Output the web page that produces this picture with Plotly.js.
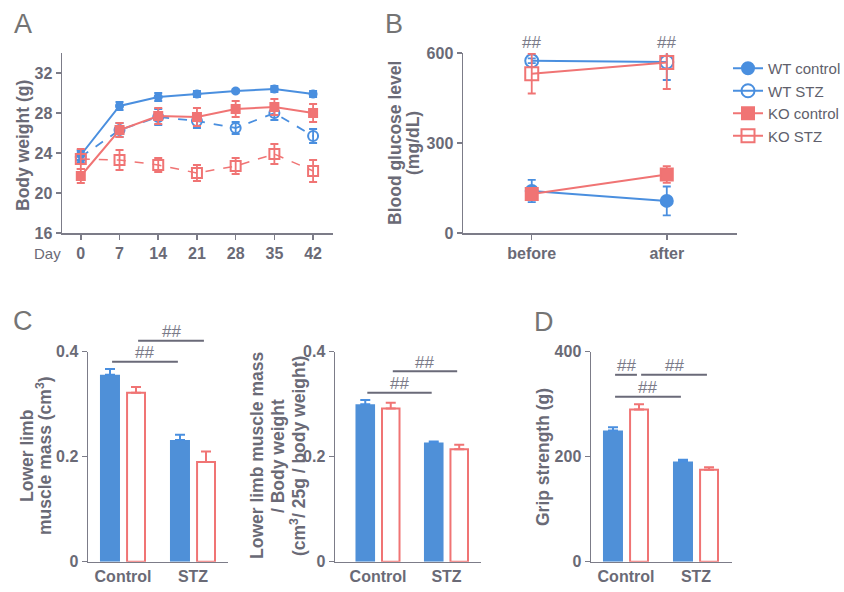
<!DOCTYPE html>
<html><head><meta charset="utf-8">
<script src="https://cdn.plot.ly/plotly-3.0.1.min.js"></script>
<style>html,body{margin:0;padding:0;background:#fff}#chart{width:844px;height:592px}</style>
</head><body><div id="chart"></div>
<script>
// ---------------- data ----------------
const days = [0, 7, 14, 21, 28, 35, 42];
const groupNames = ['WT control', 'WT STZ', 'KO control', 'KO STZ'];

const bwWTControl    = [23.8, 28.7, 29.6, 29.9, 30.2, 30.4, 29.9];
const bwWTControlErr = [0.5, 0.4, 0.4, 0.3, 0.15, 0.3, 0.3];
const bwWTSTZ        = [23.6, 26.3, 27.6, 27.2, 26.5, 28.0, 25.7];
const bwWTSTZErr     = [0.6, 0.7, 0.8, 0.7, 0.6, 0.7, 0.7];
const bwKOControl    = [21.7, 26.3, 27.7, 27.6, 28.4, 28.6, 28.0];
const bwKOControlErr = [0.7, 0.7, 0.8, 0.9, 0.8, 0.8, 0.9];
const bwKOSTZ        = [23.4, 23.3, 22.8, 22.0, 22.7, 23.9, 22.2];
const bwKOSTZErr     = [1.0, 1.0, 0.7, 0.8, 0.8, 1.0, 1.1];

const phases = ['before', 'after'];
const gluWTControl    = [140, 107];
const gluWTControlErr = [37, 48];
const gluWTSTZ        = [574, 570];
const gluWTSTZErr     = [8, 60];
const gluKOControl    = [130, 195];
const gluKOControlErr = [20, 28];
const gluKOSTZ        = [531, 568];
const gluKOSTZErr     = [66, 88];
const gluSigLabels    = ['##', '##'];

const barGroups   = ['Control', 'STZ'];
const massWT      = [0.356, 0.232];
const massWTErr   = [0.011, 0.010];
const massKO      = [0.322, 0.190];
const massKOErr   = [0.011, 0.020];
const ratioWT     = [0.300, 0.227];
const ratioWTErr  = [0.008, 0.002];
const ratioKO     = [0.292, 0.214];
const ratioKOErr  = [0.011, 0.009];
const gripWT      = [250, 191];
const gripWTErr   = [6, 3];
const gripKO      = [290, 175];
const gripKOErr   = [10, 5];

// significance comparisons (from group, to group, level on the value axis)
const sigMassFrom  = ['WT control', 'KO control'];
const sigMassTo    = ['WT STZ', 'KO STZ'];
const sigMassLevel = [0.381, 0.421];
const sigRatioFrom  = ['WT control', 'KO control'];
const sigRatioTo    = ['WT STZ', 'KO STZ'];
const sigRatioLevel = [0.322, 0.363];
const sigGripFrom  = ['WT control', 'KO control', 'WT control'];
const sigGripTo    = ['KO control', 'KO STZ', 'WT STZ'];
const sigGripLevel = [356, 356, 314];

// ---------------- style / geometry ----------------
const W = 844, H = 592;
const BLUE = '#4a8fdf', RED = '#f07474', BARBLUE = '#4f90d8';
const AXC = '#7c7c88', TXT = '#6a6a76';
const FONT = 'Liberation Sans, Arial, sans-serif';

const geo = {
  A:  {x: [62, 333],  y: [53, 233]},
  B:  {x: [463, 737], y: [53, 233]},
  C1: {x: [88, 228],  y: [351.7, 561.7]},
  C2: {x: [335, 481], y: [351.7, 561.7]},
  D:  {x: [591, 732], y: [351.7, 561.7]}
};
const xd = g => [g.x[0] / W, g.x[1] / W];
const yd = g => [1 - g.y[1] / H, 1 - g.y[0] / H];
const px = x => x / W, py = y => 1 - y / H;

const BAR_OFF = 0.186, BAR_W = 0.286;
const groupPos = {'WT control': [0, -1], 'KO control': [0, 1], 'WT STZ': [1, -1], 'KO STZ': [1, 1]};

function axis(g, isX, range, extra) {
  return Object.assign({
    domain: isX ? xd(g) : yd(g), range: range, autorange: false,
    showline: true, linecolor: AXC, linewidth: 1.5,
    ticks: 'outside', ticklen: 5, tickwidth: 1.5, tickcolor: AXC,
    showgrid: false, zeroline: false, fixedrange: true,
    tickfont: {family: FONT, size: 16, color: TXT, weight: 'bold'}
  }, extra);
}

// ---------------- traces ----------------
function err(arr, color) {
  return {type: 'data', array: arr, visible: true, color: color, thickness: 1.8, width: 4};
}
function upErr(arr, color) {
  return {type: 'data', symmetric: false, array: arr, arrayminus: arr.map(() => 0),
          visible: true, color: color, thickness: 2, width: 5};
}

const traces = [];
// Panel A: body weight
const aSeries = [
  [bwWTControl, bwWTControlErr, BLUE, 'solid', 'circle', 7, 2],
  [bwWTSTZ, bwWTSTZErr, BLUE, 'dash', 'circle-open', 10, 1.8],
  [bwKOControl, bwKOControlErr, RED, 'solid', 'square', 8, 2],
  [bwKOSTZ, bwKOSTZErr, RED, 'dash', 'square-open', 10, 1.5]
];
aSeries.forEach((s, i) => {
  traces.push({
    type: 'scatter', mode: 'lines+markers', x: days, y: s[0], name: groupNames[i],
    xaxis: 'x', yaxis: 'y', showlegend: false,
    line: {color: s[2], width: s[6], dash: s[3]},
    marker: {symbol: s[4], size: s[5], color: s[2], line: {color: s[2], width: 2}},
    error_y: err(s[1], s[2])
  });
});
// Panel B: blood glucose
const bSeries = [
  [gluWTControl, gluWTControlErr, BLUE, 'circle', 12],
  [gluWTSTZ, gluWTSTZErr, BLUE, 'circle-open', 13],
  [gluKOControl, gluKOControlErr, RED, 'square', 12],
  [gluKOSTZ, gluKOSTZErr, RED, 'square-open', 13]
];
bSeries.forEach((s, i) => {
  traces.push({
    type: 'scatter', mode: 'lines+markers', x: phases, y: s[0], name: groupNames[i],
    xaxis: 'x2', yaxis: 'y2', showlegend: true,
    line: {color: s[2], width: 2},
    marker: {symbol: s[3], size: s[4], color: s[2], line: {color: s[2], width: 2}},
    error_y: err(s[1], s[2])
  });
});
// Bar panels
function barPair(wt, wtErr, ko, koErr, xa, ya) {
  traces.push({
    type: 'bar', x: barGroups, y: wt, name: 'WT', xaxis: xa, yaxis: ya, showlegend: false,
    width: BAR_W, offset: -BAR_OFF - BAR_W / 2,
    marker: {color: BARBLUE, line: {color: BARBLUE, width: 0}},
    error_y: upErr(wtErr, BLUE)
  });
  traces.push({
    type: 'bar', x: barGroups, y: ko, name: 'KO', xaxis: xa, yaxis: ya, showlegend: false,
    width: BAR_W - 0.03, offset: BAR_OFF - (BAR_W - 0.03) / 2,
    marker: {color: '#ffffff', line: {color: RED, width: 2}},
    error_y: upErr(koErr, RED)
  });
}
barPair(massWT, massWTErr, massKO, massKOErr, 'x3', 'y3');
barPair(ratioWT, ratioWTErr, ratioKO, ratioKOErr, 'x4', 'y4');
barPair(gripWT, gripWTErr, gripKO, gripKOErr, 'x5', 'y5');

// ---------------- layout ----------------
const ranges = {y3: [0, 0.4], y4: [0, 0.4], y5: [0, 400]};
const geoOf = {y3: geo.C1, y4: geo.C2, y5: geo.D};
function valToPaper(ya, v) {
  const g = geoOf[ya], r = ranges[ya];
  const pix = g.y[1] - (v - r[0]) / (r[1] - r[0]) * (g.y[1] - g.y[0]);
  return py(pix);
}

const shapes = [], annotations = [];
function sig(from, to, level, xa, ya) {
  from.forEach((f, i) => {
    const a = groupPos[f], b = groupPos[to[i]];
    const x0 = a[0] + a[1] * BAR_OFF + 0.03, x1 = b[0] + b[1] * BAR_OFF - 0.03;
    const yp = valToPaper(ya, level[i]);
    shapes.push({type: 'line', xref: xa, yref: 'paper', x0: x0, x1: x1, y0: yp, y1: yp,
                 line: {color: '#6a6a78', width: 2}});
    annotations.push({xref: xa, yref: 'paper', x: (x0 + x1) / 2, y: yp, yshift: 9,
                      text: '##', showarrow: false, xanchor: 'center', yanchor: 'middle',
                      font: {family: FONT, size: 17, color: '#7a7a88'}});
  });
}
sig(sigMassFrom, sigMassTo, sigMassLevel, 'x3', 'y3');
sig(sigRatioFrom, sigRatioTo, sigRatioLevel, 'x4', 'y4');
sig(sigGripFrom, sigGripTo, sigGripLevel, 'x5', 'y5');

phases.forEach((p, i) => {
  annotations.push({xref: 'x2', yref: 'paper', x: p, y: py(42), text: gluSigLabels[i],
    showarrow: false, xanchor: 'center', yanchor: 'middle',
    font: {family: FONT, size: 17, color: '#7a7a88'}});
});

function label(text, x, y, size, rot, weight, color) {
  annotations.push({xref: 'paper', yref: 'paper', x: px(x), y: py(y), text: text,
    showarrow: false, xanchor: 'center', yanchor: 'middle', textangle: rot || 0,
    font: {family: FONT, size: size, color: color || TXT, weight: weight || 'normal'}});
}
// panel letters
label('A', 23, 24, 27, 0, 'normal', '#747474');
label('B', 394, 24, 27, 0, 'normal', '#747474');
label('C', 23, 321, 27, 0, 'normal', '#747474');
label('D', 544, 322, 27, 0, 'normal', '#747474');
// axis titles
label('Body weight (g)', 23, 146, 17.5, -90, 'bold');
label('Blood glucose level', 395, 143, 17.5, -90, 'bold');
label('(mg/dL)', 413, 143, 17.5, -90, 'bold');
label('Lower limb', 27, 456, 17.5, -90, 'bold');
label('muscle mass (cm<sup>3</sup>)', 44, 456, 17.5, -90, 'bold');
label('Lower limb muscle mass', 257, 456, 17.5, -90, 'bold');
label('/ Body weight', 278, 456, 17.5, -90, 'bold');
label('(cm<sup>3</sup>/ 25g / body weight)', 298, 456, 17.5, -90, 'bold');
label('Grip strength (g)', 543, 457, 17.5, -90, 'bold');
label('Day', 47, 253, 15, 0, 'normal');

const layout = {
  width: W, height: H,
  margin: {l: 0, r: 0, t: 0, b: 0, pad: 0, autoexpand: false},
  paper_bgcolor: '#ffffff', plot_bgcolor: 'rgba(0,0,0,0)',
  font: {family: FONT, color: TXT},
  barmode: 'overlay', hovermode: false,
  showlegend: true,
  legend: {x: px(728), y: py(52), xanchor: 'left', yanchor: 'top',
           bgcolor: 'rgba(0,0,0,0)', borderwidth: 0, traceorder: 'normal',
           font: {family: FONT, size: 15, color: '#5f5f6c'}},
  xaxis: axis(geo.A, true, [-3.4, 45.6], {anchor: 'y', tickvals: days}),
  yaxis: axis(geo.A, false, [16, 34], {anchor: 'x', tickvals: [16, 20, 24, 28, 32]}),
  xaxis2: axis(geo.B, true, [-0.509, 1.52], {anchor: 'y2', type: 'category'}),
  yaxis2: axis(geo.B, false, [0, 600], {anchor: 'x2', tickvals: [0, 300, 600]}),
  xaxis3: axis(geo.C1, true, [-0.5, 1.5], {anchor: 'y3', type: 'category', ticks: ''}),
  yaxis3: axis(geo.C1, false, ranges.y3, {anchor: 'x3', tickvals: [0, 0.2, 0.4]}),
  xaxis4: axis(geo.C2, true, [-0.628, 1.504], {anchor: 'y4', type: 'category', ticks: ''}),
  yaxis4: axis(geo.C2, false, ranges.y4, {anchor: 'x4', tickvals: [0, 0.2, 0.4]}),
  xaxis5: axis(geo.D, true, [-0.5, 1.514], {anchor: 'y5', type: 'category', ticks: ''}),
  yaxis5: axis(geo.D, false, ranges.y5, {anchor: 'x5', tickvals: [0, 200, 400]}),
  shapes: shapes, annotations: annotations
};

Plotly.newPlot('chart', traces, layout, {staticPlot: true, displayModeBar: false});
</script>
</body></html>
